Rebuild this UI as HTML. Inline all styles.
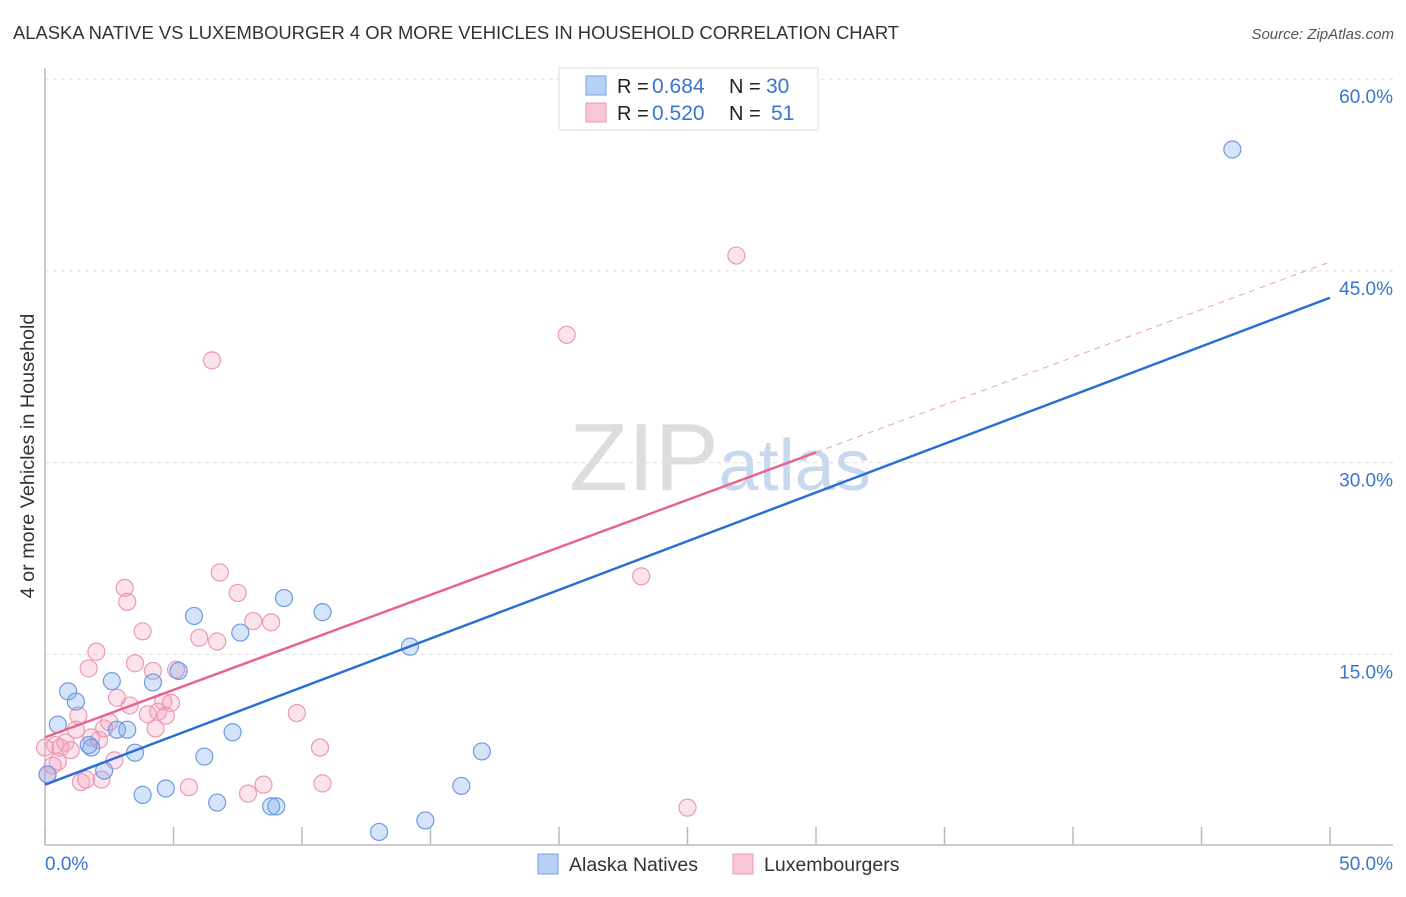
<!DOCTYPE html>
<html><head><meta charset="utf-8"><style>
body{margin:0;background:#fff;font-family:"Liberation Sans",sans-serif;}
svg text{font-family:"Liberation Sans",sans-serif;}
</style></head><body>
<svg id="chart" width="1406" height="892" xmlns="http://www.w3.org/2000/svg">
<text x="13" y="39" font-size="18.4" fill="#333">ALASKA NATIVE VS LUXEMBOURGER 4 OR MORE VEHICLES IN HOUSEHOLD CORRELATION CHART</text>
<text x="1394" y="39" font-size="15" fill="#555" text-anchor="end" font-style="italic">Source: ZipAtlas.com</text>
<text x="720" y="490" font-size="96" fill="#ddd" text-anchor="middle" font-family="Liberation Serif,serif">ZIP<tspan fill="#c8d8ee" font-family="Liberation Sans,sans-serif" font-size="72">atlas</tspan></text>
<g id="grid"></g><g id="axes"></g><g id="marks"></g><g id="lines"></g>
<text transform="translate(34,456) rotate(-90)" font-size="19.8" fill="#333" text-anchor="middle">4 or more Vehicles in Household</text>
<g>
<rect x="559" y="68" width="259" height="62" fill="#fff" stroke="#ddd"/>
<rect x="586" y="76" width="20" height="19" fill="#b8d0f4" stroke="#7aa5e6"/>
<rect x="586" y="103" width="20" height="19" fill="#f8c6d6" stroke="#ec9ab6"/>
<text x="617" y="93" font-size="20" fill="#222">R =</text>
<text x="652" y="93" font-size="21" fill="#3a74d0">0.684</text>
<text x="729" y="93" font-size="20" fill="#222">N =</text>
<text x="766" y="93" font-size="21" fill="#3a74d0">30</text>
<text x="617" y="120" font-size="20" fill="#222">R =</text>
<text x="652" y="120" font-size="21" fill="#3a74d0">0.520</text>
<text x="729" y="120" font-size="20" fill="#222">N =</text>
<text x="771" y="120" font-size="21" fill="#3a74d0">51</text>
</g>
<g>
<rect x="538" y="854" width="20" height="20" fill="#b8d0f4" stroke="#7aa5e6"/>
<text x="569" y="871" font-size="19.5" fill="#333">Alaska Natives</text>
<rect x="733" y="854" width="20" height="20" fill="#f8c6d6" stroke="#ec9ab6"/>
<text x="764" y="871" font-size="19.5" fill="#333">Luxembourgers</text>
</g>
</svg>
<script>
const yTicks=[15,30,45,60];
const yTickLabels=["15.0%","30.0%","45.0%","60.0%"];
const xTicks=[0,5,10,15,20,25,30,35,40,45,50];
const blueX=[46.2,0.1,0.5,0.9,1.2,1.8,1.7,2.3,2.6,2.8,3.2,3.5,3.8,4.2,4.7,5.2,5.8,6.2,6.7,7.3,7.6,8.8,9.0,9.3,10.8,13.0,14.2,14.8,16.2,17.0];
const blueY=[54.5,5.6,9.5,12.1,11.3,7.7,7.9,5.9,12.9,9.1,9.1,7.3,4.0,12.8,4.5,13.7,18.0,7.0,3.4,8.9,16.7,3.1,3.1,19.4,18.3,1.1,15.6,2.0,4.7,7.4];
const pinkX=[0.1,0.3,0.4,0.6,0.8,1.0,1.2,1.3,1.4,1.6,1.7,2.0,2.1,2.2,2.3,2.5,2.7,2.8,3.1,3.2,3.3,3.5,3.8,4.0,4.2,4.3,4.4,4.6,4.7,4.9,5.1,5.6,6.0,6.5,6.7,6.8,7.5,7.9,8.1,8.5,8.8,9.8,10.7,10.8,20.3,23.2,25.0,26.9,0,0.5,1.8];
const pinkY=[5.6,6.3,7.9,7.7,8.1,7.5,9.1,10.2,5.0,5.2,13.9,15.2,8.3,5.2,9.2,9.7,6.7,11.6,20.2,19.1,11.0,14.3,16.8,10.3,13.7,9.2,10.5,11.3,10.2,11.2,13.8,4.6,16.3,38.0,16.0,21.4,19.8,4.1,17.6,4.8,17.5,10.4,7.7,4.9,40.0,21.1,3.0,46.2,7.7,6.6,8.5];
const blueLine=[[0,4.8],[50,42.9]];
const pinkLine=[[0,8.5],[30,30.8]];
const pinkDash=[[30,30.8],[50,45.7]];
const NS="http://www.w3.org/2000/svg";
const X=v=>45+v*25.7, Y=v=>846-v*12.78;
function mk(tag,attrs,parent){const e=document.createElementNS(NS,tag);for(const k in attrs)e.setAttribute(k,attrs[k]);document.getElementById(parent).appendChild(e);return e;}
yTicks.forEach((t,i)=>{
 const g=mk('line',{x1:45,x2:1393,y1:Y(t),y2:Y(t),stroke:'#ddd','stroke-dasharray':'4,4'},'grid');
 
 
 const l=mk('text',{x:1393,y:Y(t)+24,'font-size':19,fill:'#3a74d0','text-anchor':'end'},'grid');
 l.textContent=yTickLabels[i];
 
 
});
let a=mk('line',{x1:45,x2:45,y1:68,y2:845,stroke:'#bbb','stroke-width':1.5},'axes');


a=mk('line',{x1:45,x2:1393,y1:845,y2:845,stroke:'#bbb','stroke-width':1.5},'axes');


xTicks.forEach(t=>{const e=mk('line',{x1:X(t),x2:X(t),y1:827,y2:845,stroke:'#bbb','stroke-width':1.5},'axes');
 
 });
let tl=mk('text',{x:45,y:870,'font-size':19,fill:'#3a74d0'},'axes');tl.textContent='0.0%';


tl=mk('text',{x:1393,y:870,'font-size':19,fill:'#3a74d0','text-anchor':'end'},'axes');tl.textContent='50.0%';


pinkX.forEach((v,i)=>{const c=mk('circle',{cx:X(v),cy:Y(pinkY[i]),r:8.5,fill:'rgba(244,160,190,0.3)',stroke:'#eb9ab5','stroke-width':1.2},'marks');
 
 });
blueX.forEach((v,i)=>{const c=mk('circle',{cx:X(v),cy:Y(blueY[i]),r:8.5,fill:'rgba(120,165,235,0.3)',stroke:'#6f9be0','stroke-width':1.2},'marks');
 
 });
let ln=mk('line',{x1:X(pinkDash[0][0]),y1:Y(pinkDash[0][1]),x2:X(pinkDash[1][0]),y2:Y(pinkDash[1][1]),stroke:'#eca0b8','stroke-width':1,'stroke-dasharray':'6,5'},'lines');


ln=mk('line',{x1:X(pinkLine[0][0]),y1:Y(pinkLine[0][1]),x2:X(pinkLine[1][0]),y2:Y(pinkLine[1][1]),stroke:'#e8648e','stroke-width':2.5},'lines');


ln=mk('line',{x1:X(blueLine[0][0]),y1:Y(blueLine[0][1]),x2:X(blueLine[1][0]),y2:Y(blueLine[1][1]),stroke:'#2a6fd6','stroke-width':2.5},'lines');


</script>
</body></html>
